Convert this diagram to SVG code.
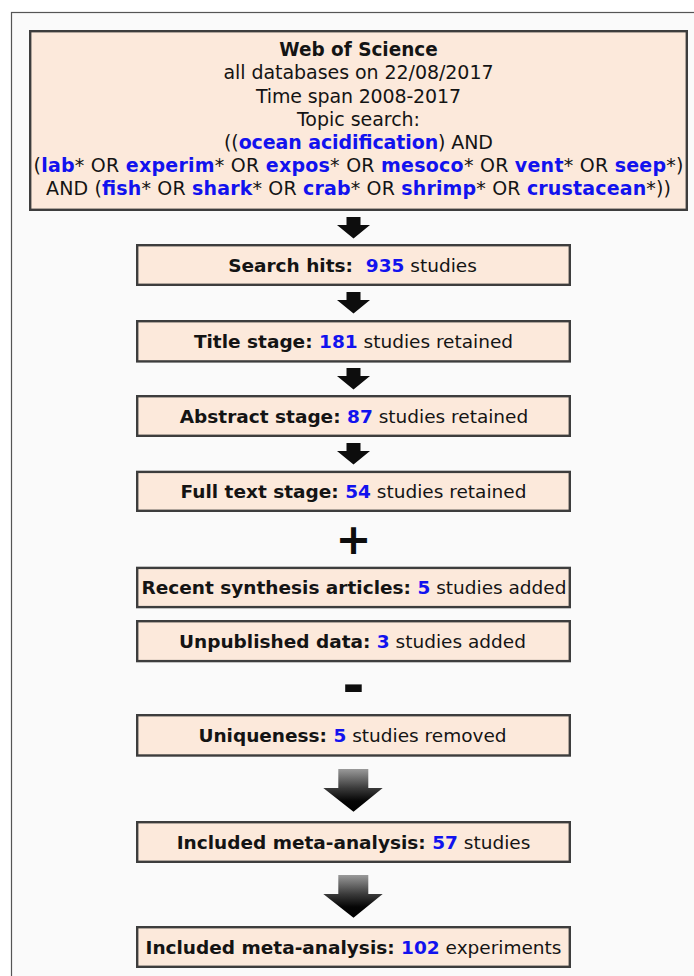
<svg xmlns="http://www.w3.org/2000/svg" width="694" height="976" viewBox="0 0 694 976">
<defs>
<style>
.box{fill:#fce9db;stroke:#3d3d3d;stroke-width:2.4}
.t{font-family:"DejaVu Sans",Verdana,sans-serif;font-size:18.5px;fill:#141414;text-anchor:middle}
.h{font-family:"DejaVu Sans",Verdana,sans-serif;font-size:19px;fill:#141414;text-anchor:middle}
.b{font-weight:bold}
.n{font-weight:bold;fill:#1212ee}
.small{fill:#0d0d0d}
.big{fill:url(#g)}
.sym{font-family:"DejaVu Sans",Verdana,sans-serif;font-weight:bold;fill:#0d0d0d;text-anchor:middle}
</style>
<linearGradient id="g" x1="0" y1="0" x2="0" y2="1">
<stop offset="0" stop-color="#9a9a9a"/>
<stop offset="0.45" stop-color="#3a3a3a"/>
<stop offset="0.75" stop-color="#050505"/>
<stop offset="1" stop-color="#000"/>
</linearGradient>
</defs>
<rect x="0" y="0" width="694" height="976" fill="#ffffff"/>
<rect x="11.5" y="12.5" width="700" height="980" fill="#fafafa" stroke="#555" stroke-width="1.2"/>

<g id="search-query">
<rect class="box" x="30.2" y="31.2" width="656.6" height="178.6"/>
<text class="h b" x="358.5" y="56" textLength="158.5" lengthAdjust="spacingAndGlyphs">Web of Science</text>
<text class="h" x="358.5" y="79.3" textLength="270" lengthAdjust="spacing">all databases on 22/08/2017</text>
<text class="h" x="358.5" y="102.5" textLength="205" lengthAdjust="spacing">Time span 2008-2017</text>
<text class="h" x="358.5" y="125.7" textLength="123" lengthAdjust="spacing">Topic search:</text>
<text class="h" x="358.5" y="149" textLength="269" lengthAdjust="spacing">((<tspan class="n">ocean acidification</tspan>) AND</text>
<text class="h" x="358.5" y="172.2" textLength="650" lengthAdjust="spacing">(<tspan class="n">lab</tspan>* OR <tspan class="n">experim</tspan>* OR <tspan class="n">expos</tspan>* OR <tspan class="n">mesoco</tspan>* OR <tspan class="n">vent</tspan>* OR <tspan class="n">seep</tspan>*)</text>
<text class="h" x="358.5" y="195.4" textLength="625" lengthAdjust="spacing">AND (<tspan class="n">fish</tspan>* OR <tspan class="n">shark</tspan>* OR <tspan class="n">crab</tspan>* OR <tspan class="n">shrimp</tspan>* OR <tspan class="n">crustacean</tspan>*))</text>
</g>

<g id="search-hits">
<rect class="box" x="137.2" y="245.2" width="432.6" height="39.6"/>
<text class="t" x="352.5" y="271.5" xml:space="preserve"><tspan class="b">Search hits:  </tspan><tspan class="n">935</tspan> studies</text>
</g>

<g id="title-stage">
<rect class="box" x="137.2" y="321.2" width="432.6" height="40.2"/>
<text class="t" x="353.5" y="347.5"><tspan class="b">Title stage: </tspan><tspan class="n">181</tspan> studies retained</text>
</g>

<g id="abstract-stage">
<rect class="box" x="137.2" y="396.2" width="432.6" height="39.6"/>
<text class="t" x="354" y="422.7"><tspan class="b">Abstract stage: </tspan><tspan class="n">87</tspan> studies retained</text>
</g>

<g id="full-text-stage">
<rect class="box" x="137.2" y="471.9" width="432.6" height="38.9"/>
<text class="t" x="353.5" y="497.8"><tspan class="b">Full text stage: </tspan><tspan class="n">54</tspan> studies retained</text>
</g>

<g id="plus">
<text class="sym" x="353.5" y="553.5" font-size="43">+</text>
</g>

<g id="recent-synthesis">
<rect class="box" x="137.2" y="567.9" width="432.6" height="39.2"/>
<text class="t" x="354" y="593.9"><tspan class="b">Recent synthesis articles: </tspan><tspan class="n">5</tspan> studies added</text>
</g>

<g id="unpublished">
<rect class="box" x="137.2" y="621.2" width="432.6" height="39.9"/>
<text class="t" x="352.5" y="647.5"><tspan class="b">Unpublished data: </tspan><tspan class="n">3</tspan> studies added</text>
</g>

<g id="minus">
<text class="sym" x="353.5" y="704" font-size="54">-</text>
</g>

<g id="uniqueness">
<rect class="box" x="137.2" y="715.2" width="432.6" height="40.3"/>
<text class="t" x="352.5" y="741.6"><tspan class="b">Uniqueness: </tspan><tspan class="n">5</tspan> studies removed</text>
</g>

<g id="included-studies">
<rect class="box" x="137.2" y="822.2" width="432.6" height="39.6"/>
<text class="t" x="353.5" y="848.5"><tspan class="b">Included meta-analysis: </tspan><tspan class="n">57</tspan> studies</text>
</g>

<g id="included-experiments">
<rect class="box" x="137.2" y="927.2" width="432.6" height="39.6"/>
<text class="t" x="353.5" y="953.5"><tspan class="b">Included meta-analysis: </tspan><tspan class="n">102</tspan> experiments</text>
</g>

<g id="connectors">
<path class="small" d="M346.5 217H360.5V225H370L353.5 238.5L337 225H346.5Z"/>
<path class="small" d="M346.5 292H360.5V300H370L353.5 313.5L337 300H346.5Z"/>
<path class="small" d="M346.5 368H360.5V376H370L353.5 389.5L337 376H346.5Z"/>
<path class="small" d="M346.5 443H360.5V451H370L353.5 464.5L337 451H346.5Z"/>
<path class="big" d="M338.3 769H368.3V788H382.7L353.5 811.7L323.3 788H338.3Z"/>
<path class="big" d="M338.3 875H368.3V894H382.7L353.5 917.7L323.3 894H338.3Z"/>
</g>
</svg>
